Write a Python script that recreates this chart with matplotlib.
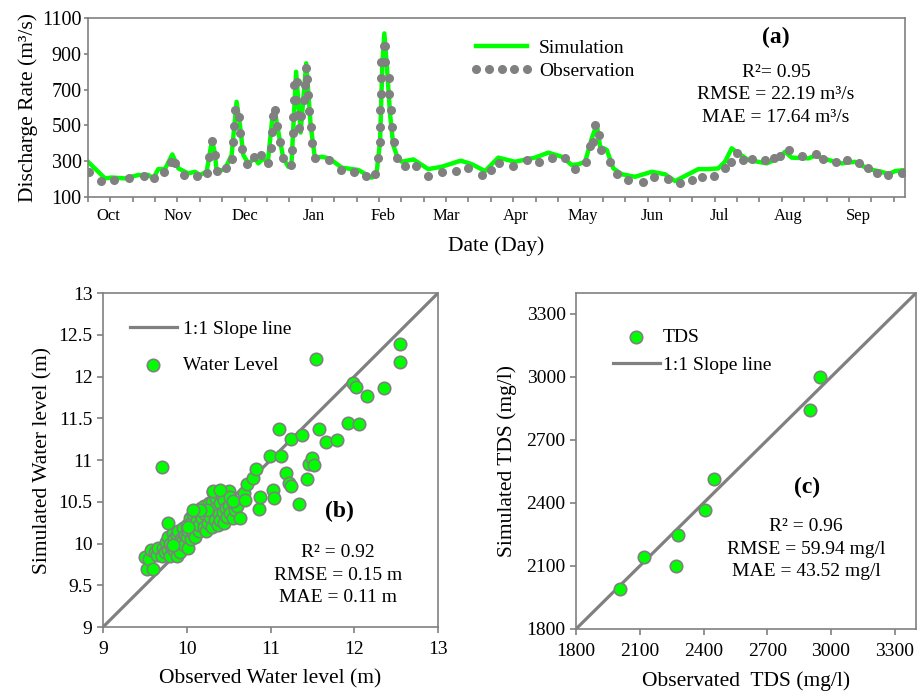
import numpy as np
import matplotlib
matplotlib.use('Agg')
from matplotlib import pyplot as plt

plt.rcParams['font.family'] = ['Liberation Serif', 'DejaVu Serif']

#-------------------------------------
# Data
#-------------------------------------
# (a) discharge, days counted from 1 Oct
sim_day = [0, 4.6, 7.6, 10.6, 16.5, 22.5, 27, 29.2, 31.4, 34.4, 37.7, 40.4, 44.8, 47.8, 50, 53,
           55.4, 56.6, 57.5, 61.2, 64.2, 66.4, 67.9, 69.4, 71.6, 74.6, 76.1, 78.3, 80.3, 82.5,
           83.5, 84.3, 85.8, 87.3, 89.5, 90.9, 93.0, 95.0, 97.5, 99.5, 101.4, 104.4, 107.8,
           113.4, 120.8, 126.8, 129.0, 130.5, 131.5, 132.4, 133.5, 135.0, 136.4, 137.9, 140.2,
           145.4, 152.0, 158.0, 166.5, 171.4, 177.4, 183.3, 190.8, 199.7, 205.7, 211.7, 216.1,
           219.1, 222.1, 225.1, 227.3, 228.8, 231.8, 234.7, 238.5, 244.4, 251.9, 257.8, 262.3,
           268.2, 272.7, 277.2, 281.6, 284.6, 287.6, 290.6, 295.0, 303.2, 308.5, 311.4, 314.4,
           321.9, 324.8, 330.8, 336.8, 342.7, 348.7, 354.6, 357.6, 360.6, 365]
sim_q = [297, 241, 204, 209, 204, 223, 223, 204, 256, 256, 338, 260, 232, 241, 223, 241,
         415, 353, 241, 256, 335, 632, 502, 335, 288, 316, 288, 316, 288, 558,
         590, 516, 413, 316, 269, 279, 800, 460, 847, 500, 316, 325, 316,
         264, 251, 208, 241, 409, 837, 1014, 837, 558, 390, 335, 297,
         310, 256, 269, 303, 284, 245, 320, 297, 320, 348, 325, 279,
         283, 297, 428, 506, 381, 363, 260, 227, 213, 241, 227, 189,
         227, 256, 256, 260, 297, 372, 344, 307, 288, 316, 353, 320,
         316, 331, 307, 288, 297, 256, 241, 227, 245, 251]

obs_day = [0.5, 5.7, 11.8, 18.3, 24.9, 29.5, 34.0, 37.0, 38.9, 42.9, 48.8, 53.2, 53.9, 55.4,
           56.6, 57.5, 61.5, 64.2, 64.6, 65.1, 65.8, 67.3, 68.1, 69.0, 70.9, 74.2, 77.2, 80.3,
           81.6, 82.2, 82.8, 83.7, 84.6, 85.8, 87.0, 90.6, 91.3, 91.6, 91.7, 91.9, 92.0, 92.8,
           93.2, 93.7, 94.3, 95.2, 96.5, 97.0, 97.3, 97.7, 98.4, 98.9, 99.5, 100.2, 101.4,
           107.8, 112.9, 118.7, 124.1, 128.4, 129.7, 130.3, 130.5, 130.6, 130.7, 131.0, 131.0,
           132.1, 132.7, 132.7, 134.3, 134.7, 135.3, 136.0, 136.6, 137.9, 141.8, 146.7, 151.8,
           158.2, 164.4, 169.9, 175.9, 180.1, 183.8, 189.7, 196.0, 201.7, 207.5, 213.1, 217.7,
           222.7, 224.3, 225.8, 226.5, 228.2, 229.4, 233.1, 236.4, 241.4, 247.8, 252.9, 259.3,
           264.7, 269.7, 274.4, 279.7, 284.6, 287.3, 289.9, 292.8, 296.8, 302.5, 306.5, 309.2,
           313.2, 319.2, 325.1, 328.6, 334.1, 339.3, 344.6, 348.7, 352.4, 357.6, 363.6]
obs_q = [241, 191, 195, 204, 215, 204, 238, 296, 288, 221, 215, 236, 325, 413,
         333, 245, 264, 314, 405, 497, 588, 549, 457, 368, 286, 322, 333, 290,
         375, 463, 554, 586, 498, 405, 316, 279, 362, 457, 546, 642, 726, 640,
         744, 558, 484, 550, 642, 726, 819, 759, 670, 582, 491, 400, 316,
         308, 250, 238, 219, 230, 316, 406, 493, 586, 675, 766, 854,
         942, 942, 854, 766, 675, 586, 493, 406, 319, 271, 273, 219,
         238, 248, 261, 223, 250, 290, 271, 307, 296, 320, 318, 259,
         298, 383, 407, 500, 449, 360, 294, 229, 193, 182, 214, 201,
         176, 197, 214, 217, 260, 298, 348, 307, 314, 307, 320, 329,
         363, 329, 339, 311, 298, 307, 289, 264, 236, 221, 232]

month_names = ['Oct', 'Nov', 'Dec', 'Jan', 'Feb', 'Mar', 'Apr', 'May', 'Jun', 'Jul', 'Aug', 'Sep']
month_len = [31, 30, 31, 31, 28, 31, 30, 31, 30, 31, 31, 30]

# (b) water level
wl_obs = [9.50, 9.53, 9.55, 9.57, 9.60, 9.62, 9.65, 9.66, 9.70, 9.72, 9.74, 9.75, 9.77, 9.78,
          9.80, 9.80, 9.82, 9.83, 9.85, 9.85, 9.86, 9.88, 9.88, 9.90, 9.90, 9.92, 9.93, 9.95,
          9.95, 9.97, 9.98, 10.00, 10.00, 10.02, 10.02, 10.04, 10.05, 10.05, 10.07, 10.08,
          10.10, 10.10, 10.12, 10.13, 10.15, 10.15, 10.17, 10.18, 10.20, 10.20, 10.22, 10.23,
          10.25, 10.25, 10.27, 10.28, 10.30, 10.30, 10.31, 10.32, 10.34, 10.35, 10.35, 10.37,
          10.38, 10.40, 10.40, 10.42, 10.43, 10.45, 10.45, 10.47, 10.48, 10.50, 10.50, 10.52,
          10.55, 10.55, 10.58, 10.60, 9.70, 9.78, 9.84, 10.02, 10.24, 10.16, 10.07, 10.31,
          10.40, 10.51, 10.55, 10.64, 10.68, 10.70, 10.72, 10.79, 10.83, 10.86, 10.88, 10.99,
          11.03, 11.04, 11.10, 11.13, 11.18, 11.22, 11.24, 11.24, 11.34, 11.38, 11.44, 11.46,
          11.50, 11.52, 11.54, 11.58, 11.66, 11.79, 11.92, 11.99, 12.02, 12.06, 12.15, 12.35,
          12.55, 12.55]
wl_sim = [9.84, 9.69, 9.82, 9.92, 9.70, 9.90, 9.86, 9.95, 9.85, 9.95, 9.90, 10.02, 9.92, 10.08,
          9.85, 10.00, 9.95, 10.12, 9.92, 10.05, 9.98, 9.85, 10.10, 9.98, 10.15, 9.90, 10.05, 10.04,
          10.18, 9.98, 10.10, 10.08, 10.22, 9.95, 10.15, 10.30, 10.05, 10.25, 10.12, 10.35,
          10.18, 10.08, 10.28, 10.38, 10.15, 10.22, 10.42, 10.30, 10.20, 10.45, 10.35, 10.15,
          10.40, 10.25, 10.48, 10.32, 10.20, 10.50, 10.62, 10.38, 10.28, 10.44, 10.55, 10.22,
          10.35, 10.48, 10.28, 10.58, 10.38, 10.25, 10.52, 10.42, 10.32, 10.63, 10.45, 10.36,
          10.30, 10.50, 10.40, 10.45, 10.92, 10.25, 9.98, 10.20, 10.40, 10.40, 10.40, 10.63,
          10.64, 10.56, 10.51, 10.30, 10.60, 10.52, 10.71, 10.78, 10.89, 10.41, 10.56, 11.05,
          10.64, 10.55, 11.37, 11.05, 10.84, 10.73, 10.69, 11.25, 10.47, 11.30, 10.77, 10.95,
          11.03, 10.94, 12.21, 11.37, 11.21, 11.24, 11.44, 11.92, 11.87, 11.43, 11.77, 11.86,
          12.39, 12.17]

# (c) TDS
tds_obs = [2007, 2121, 2269, 2278, 2407, 2447, 2900, 2947]
tds_sim = [1988, 2144, 2099, 2247, 2366, 2513, 2844, 3002]

#-------------------------------------
# Colours / styles
#-------------------------------------
myGreen = '#00ff00'
myGrey = '#808080'

fig = plt.figure(figsize=(9.24, 6.93), dpi=100)
axA = fig.add_axes([0.0952, 0.7157, 0.8842, 0.2583])
axB = fig.add_axes([0.1115, 0.0952, 0.3626, 0.4820])
axC = fig.add_axes([0.6234, 0.0924, 0.3680, 0.4848])

for ax in (axA, axB, axC):
  for sp in ax.spines.values():
    sp.set_color(myGrey)
    sp.set_linewidth(1.2)

#-------------------------------------
# (a) discharge time series
#-------------------------------------
axA.plot(sim_day, sim_q, '-', color=myGreen, lw=3.2, label='Simulation', zorder=2)
axA.plot(obs_day, obs_q, 'o', ls='none', ms=5.5, color=myGrey, mec=myGrey, label='Observation', zorder=3)
axA.set_xlim(0, 365)
axA.set_ylim(100, 1100)
axA.set_yticks([100, 300, 500, 700, 900, 1100])
axA.xaxis.remove_overlapping_locs = False
axA.set_xticks(np.arange(0, 365, 10))
axA.set_xticklabels([])
month_start = np.concatenate([[0], np.cumsum(month_len)[:-1]])
axA.set_xticks(month_start + 9, minor=True)
axA.set_xticklabels(month_names, minor=True)
axA.tick_params('x', which='major', direction='out', length=3.5, width=1.2, color=myGrey)
axA.tick_params('x', which='minor', length=0, labelsize=12, pad=8)
axA.tick_params('y', direction='out', length=3, width=1.2, color=myGrey, labelsize=14.5, pad=1.5)
axA.set_xlabel('Date (Day)', fontsize=15.5, labelpad=9)
axA.set_ylabel('Discharge Rate (m³/s)', fontsize=15.5, labelpad=3)
axA.legend(loc='upper left', bbox_to_anchor=(0.4676, 0.88), frameon=False, fontsize=14,
           numpoints=5, handlelength=3.25, handletextpad=0.3, labelspacing=0.25,
           borderpad=0, borderaxespad=0)
axA.text(0.842, 0.894, '(a)', transform=axA.transAxes, ha='center', va='center',
         fontsize=17, fontweight='bold')
statsA = ['R²= 0.95', 'RMSE = 22.19 m³/s', 'MAE = 17.64 m³/s']
for i, s in enumerate(statsA):
  axA.text(0.842, 0.693 - i*0.123, s, transform=axA.transAxes, ha='center', va='center', fontsize=14)

#-------------------------------------
# (b) water level scatter
#-------------------------------------
axB.plot([9, 13], [9, 13], '-', color=myGrey, lw=2.3, label='1:1 Slope line', zorder=2)
axB.scatter(wl_obs, wl_sim, s=80, color=myGreen, edgecolors=myGrey, linewidths=1.2,
            label='Water Level', zorder=3)
axB.set_xlim(9, 13)
axB.set_ylim(9, 13)
axB.set_xticks([9, 10, 11, 12, 13])
axB.set_yticks([9, 9.5, 10, 10.5, 11, 11.5, 12, 12.5, 13])
axB.set_yticklabels(['9', '9.5', '10', '10.5', '11', '11.5', '12', '12.5', '13'])
axB.tick_params('both', direction='out', length=4, width=1.2, color=myGrey, labelsize=14)
axB.tick_params('x', pad=6)
axB.set_xlabel('Observed Water level (m)', fontsize=15.5, labelpad=8)
axB.set_ylabel('Simulated Water level (m)', fontsize=15.5, labelpad=4)
axB.legend(loc='upper left', bbox_to_anchor=(0.0806, 0.918), frameon=False, fontsize=14,
           numpoints=1, scatterpoints=1, handlelength=2.4, handletextpad=0.3, labelspacing=0.95,
           borderpad=0, borderaxespad=0)
axB.text(0.707, 0.347, '(b)', transform=axB.transAxes, ha='center', va='center',
         fontsize=17, fontweight='bold')
statsB = ['R² = 0.92', 'RMSE = 0.15 m', 'MAE = 0.11 m']
for i, s in enumerate(statsB):
  axB.text(0.701, 0.222 - i*0.067, s, transform=axB.transAxes, ha='center', va='center', fontsize=14)

#-------------------------------------
# (c) TDS scatter
#-------------------------------------
axC.scatter(tds_obs, tds_sim, s=80, color=myGreen, edgecolors=myGrey, linewidths=1.2,
            label='TDS', zorder=3)
axC.plot([1800, 3400], [1800, 3400], '-', color=myGrey, lw=2.3, label='1:1 Slope line', zorder=2)
axC.set_xlim(1800, 3400)
axC.set_ylim(1800, 3400)
axC.set_xticks(np.arange(1800, 3301, 300))
axC.set_yticks(np.arange(1800, 3301, 300))
axC.tick_params('both', direction='out', length=4, width=1.2, color=myGrey, labelsize=14)
axC.tick_params('x', pad=6)
axC.set_xlabel('Observated  TDS (mg/l)', fontsize=15.5, labelpad=8)
axC.set_ylabel('Simulated TDS (mg/l)', fontsize=15.5, labelpad=7)
h, l = axC.get_legend_handles_labels()
order = [l.index('TDS'), l.index('1:1 Slope line')]
axC.legend([h[i] for i in order], [l[i] for i in order], loc='upper left',
           bbox_to_anchor=(0.109, 0.895), frameon=False,
           fontsize=14, numpoints=1, scatterpoints=1, handlelength=2.4, handletextpad=0.15,
           labelspacing=0.55, borderpad=0, borderaxespad=0)
axC.text(0.679, 0.420, '(c)', transform=axC.transAxes, ha='center', va='center',
         fontsize=17, fontweight='bold')
statsC = ['R² = 0.96', 'RMSE = 59.94 mg/l', 'MAE = 43.52 mg/l']
for i, s in enumerate(statsC):
  axC.text(0.676, 0.304 - i*0.067, s, transform=axC.transAxes, ha='center', va='center', fontsize=14)

fig.savefig('out.png', dpi=100)
